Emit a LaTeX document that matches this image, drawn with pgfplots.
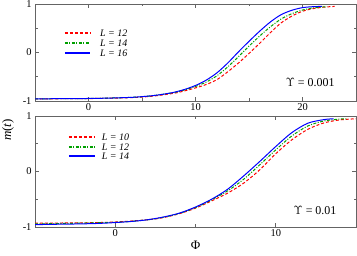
\documentclass[border=0pt]{standalone}
\usepackage{fontspec}
\setmainfont{Liberation Serif}
\usepackage{pgfplots}
\pgfplotsset{compat=1.18}
\definecolor{cred}{RGB}{255,0,0}
\definecolor{cgreen}{RGB}{0,160,0}
\definecolor{cblue}{RGB}{0,0,255}
\definecolor{axframe}{RGB}{100,100,100}
\tikzset{
  legtext/.style={anchor=west, inner sep=0pt, font=\fontsize{10}{10}\selectfont},
}
\pgfplotsset{
  mystyle/.style={
    scale only axis, width=321bp,
    axis line style={axframe, line width=0.8pt},
    tick style={axframe, line width=0.6pt},
    major tick length=4bp, minor tick length=2.5bp,
    tick align=inside,
    ymin=-1, ymax=1, ytick={-1,0,1}, minor ytick={-0.5,0.5},
    xmin=-5,
    /pgf/number format/assume math mode=true,
    ticklabel style={font=\fontsize{10.5}{12}\selectfont},
    xticklabel style={yshift=1bp},
    every axis plot/.append style={line width=1pt},
  },
  rdash/.style={draw=cred, dash pattern=on 3bp off 2bp},
  gdash/.style={draw=cgreen, dash pattern=on 3bp off 1.5bp on 1bp off 1.5bp},
  bsolid/.style={draw=cblue},
  legline/.style={forget plot, line width=1.4pt},
}
\begin{document}
\begin{tikzpicture}
\path[use as bounding box] (0,0) rectangle (357bp,256bp);
\begin{axis}[mystyle, at={(35bp,155bp)}, anchor=south west, height=97bp,
  xmax=25, xtick={0,10,20}, minor xtick={5,15}]
\addplot[rdash, smooth] coordinates {
(-5,-0.955) (0,-0.95) (4,-0.93) (6,-0.90) (8,-0.84) (9,-0.79) (10,-0.73) (11,-0.66) (12,-0.56) (13,-0.40) (14,-0.22) (15,-0.02) (16,0.19) (17,0.41) (18,0.61) (19,0.75) (20,0.85) (21,0.905) (22,0.935) (23,0.95)};
\addplot[gdash, smooth] coordinates {
(-5,-0.955) (0,-0.948) (4,-0.925) (6,-0.89) (8,-0.825) (9,-0.77) (10,-0.70) (11,-0.61) (12,-0.48) (13,-0.30) (14,-0.09) (15,0.13) (16,0.34) (17,0.53) (18,0.69) (19,0.80) (20,0.875) (21,0.92) (22,0.94) (22.3,0.945)};
\addplot[bsolid, smooth] coordinates {
(-5,-0.955) (-2,-0.952) (0,-0.948) (2,-0.94) (4,-0.925) (5,-0.91) (6,-0.89) (7,-0.86) (8,-0.82) (9,-0.76) (10,-0.68) (11,-0.57) (12,-0.42) (13,-0.22) (14,0.01) (15,0.23) (16,0.44) (17,0.63) (18,0.78) (19,0.87) (20,0.925) (21,0.945) (21.8,0.95)};
% legend
\addplot[rdash, legline] coordinates {(-2.2,0.402) (0.14,0.402)};
\addplot[gdash, legline] coordinates {(-2.2,0.196) (0.14,0.196)};
\addplot[bsolid, legline] coordinates {(-2.2,-0.010) (0.14,-0.010)};
\node[legtext] at (axis cs:1.07,0.402) {\textit{L = 12}};
\node[legtext] at (axis cs:1.07,0.196) {\textit{L = 14}};
\node[legtext] at (axis cs:1.07,-0.010) {\textit{L = 16}};
\node[anchor=east, font=\fontsize{12}{14}\selectfont] at (rel axis cs:0.944,0.19) {$\Upsilon$ = 0.001};
\end{axis}
\begin{axis}[mystyle, at={(35bp,29bp)}, anchor=south west, height=111bp,
  xmax=15, xtick={0,10}, minor xtick={5},
  xlabel={Φ}, xlabel style={font=\fontsize{13}{14}\selectfont, yshift=2bp}]
\addplot[rdash, smooth] coordinates {
(-5,-0.93) (-2,-0.925) (0,-0.91) (2,-0.87) (3,-0.83) (4,-0.76) (5,-0.66) (6,-0.53) (7,-0.39) (8,-0.21) (9,0.03) (10,0.32) (11,0.57) (12,0.76) (13,0.875) (14,0.93) (15,0.95)};
\addplot[gdash, smooth] coordinates {
(-5,-0.945) (0,-0.915) (2,-0.87) (3,-0.825) (4,-0.755) (5,-0.65) (6,-0.51) (7,-0.35) (8,-0.14) (9,0.12) (10,0.39) (11,0.64) (12,0.82) (13,0.91) (14,0.945) (14.4,0.95)};
\addplot[bsolid, smooth] coordinates {
(-5,-0.958) (-4,-0.952) (-3,-0.948) (-2,-0.943) (-1,-0.935) (0,-0.92) (1,-0.90) (2,-0.87) (3,-0.82) (4,-0.75) (5,-0.64) (6,-0.50) (7,-0.32) (8,-0.08) (9,0.18) (10,0.45) (11,0.70) (12,0.87) (13,0.935) (13.6,0.95)};
% legend
\addplot[rdash, legline] coordinates {(-2.89,0.622) (-1.27,0.622)};
\addplot[gdash, legline] coordinates {(-2.89,0.441) (-1.27,0.441)};
\addplot[bsolid, legline] coordinates {(-2.89,0.279) (-1.27,0.279)};
\node[legtext] at (axis cs:-0.84,0.622) {\textit{L = 10}};
\node[legtext] at (axis cs:-0.84,0.441) {\textit{L = 12}};
\node[legtext] at (axis cs:-0.84,0.279) {\textit{L = 14}};
\node[anchor=east, font=\fontsize{12}{14}\selectfont] at (rel axis cs:0.95,0.153) {$\Upsilon$ = 0.01};
\end{axis}
\node[rotate=90, font=\fontsize{13}{14}\selectfont] at (8bp,126bp) {\textit{m}(\textit{t})};
\end{tikzpicture}
\end{document}
